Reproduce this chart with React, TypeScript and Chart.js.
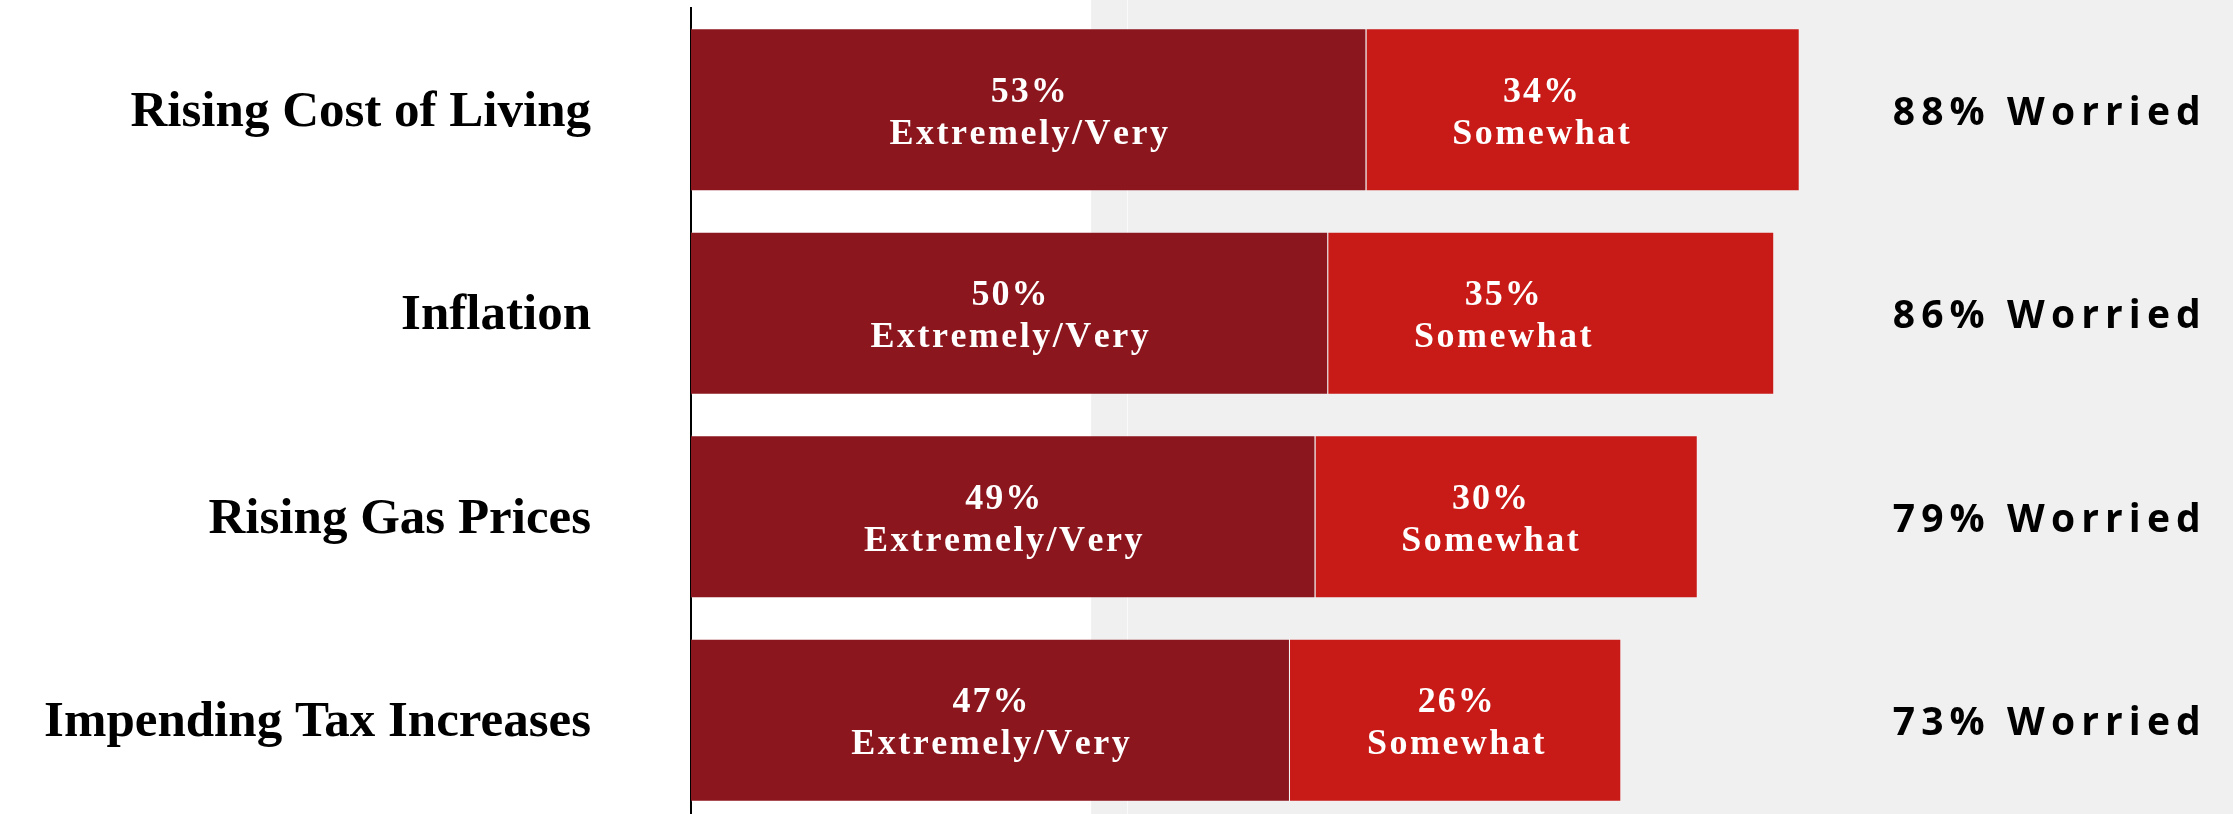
import React, { useEffect, useRef } from "react";
import { Chart, registerables } from "chart.js";

Chart.register(...registerables);

// ---- Data ----
const categories = [
  "Rising Cost of Living",
  "Inflation",
  "Rising Gas Prices",
  "Impending Tax Increases",
];
const seriesNames = ["Extremely/Very", "Somewhat"];
const extremelyVery = [53, 50, 49, 47];
const somewhat = [34, 35, 30, 26];
const worriedTotals = [88, 86, 79, 73];

// ---- Style constants ----
const DARK = "#8B161D";
const RED = "#C81A17";
const X_MAX = 121;
const SHADE_START = 31.4; // value where the grey panel starts
const SHADE_LINE = 34.2; // faint light line inside the panel
const WORRIED_START = 94.3; // value where "xx% Worried" starts
const WORRIED_WIDTH = 308;
const LABEL_MAX_OFFSET = 13.7; // max distance (in %) of a segment label from its segment start

function drawSpaced(
  ctx: CanvasRenderingContext2D,
  text: string,
  x: number,
  y: number,
  spacing: number,
  align: "center" | "left"
) {
  const chars = Array.from(text);
  const widths = chars.map((c) => ctx.measureText(c).width);
  const total = widths.reduce((a, b) => a + b, 0) + spacing * (chars.length - 1);
  let cx = align === "center" ? x - total / 2 : x;
  ctx.textAlign = "left";
  chars.forEach((c, i) => {
    ctx.fillText(c, cx, y);
    cx += widths[i] + spacing;
  });
}

const backgroundPlugin = {
  id: "panelBg",
  beforeDraw(chart: any) {
    const { ctx, width, height } = chart;
    const xs = chart.scales.x;
    ctx.save();
    ctx.fillStyle = "#ffffff";
    ctx.fillRect(0, 0, width, height);
    const gx = xs.getPixelForValue(SHADE_START);
    ctx.fillStyle = "#f0f0f0";
    ctx.fillRect(gx, 0, width - gx, height);
    const lx = Math.round(xs.getPixelForValue(SHADE_LINE)) + 0.5;
    ctx.strokeStyle = "#fafafa";
    ctx.lineWidth = 1;
    ctx.beginPath();
    ctx.moveTo(lx, 0);
    ctx.lineTo(lx, height);
    ctx.stroke();
    ctx.restore();
  },
};

const barLabelPlugin = {
  id: "barLabels",
  afterDatasetsDraw(chart: any) {
    const { ctx } = chart;
    const xs = chart.scales.x;
    ctx.save();
    ctx.fillStyle = "#ffffff";
    ctx.font = "bold 36px 'Liberation Serif', serif";
    ctx.textBaseline = "alphabetic";
    chart.data.datasets.forEach((ds: any, di: number) => {
      const meta = chart.getDatasetMeta(di);
      meta.data.forEach((el: any, i: number) => {
        const v = ds.data[i];
        const start = di === 0 ? 0 : extremelyVery[i];
        const pos = start + Math.min(v / 2, di === 0 ? v / 2 : LABEL_MAX_OFFSET);
        const cx = xs.getPixelForValue(pos);
        const cy = el.y;
        drawSpaced(ctx, `${v}%`, cx, cy - 8, 2, "center");
        drawSpaced(ctx, seriesNames[di], cx, cy + 34, 2.5, "center");
      });
    });
    ctx.restore();
  },
};

const worriedPlugin = {
  id: "worried",
  afterDraw(chart: any) {
    const { ctx } = chart;
    const xs = chart.scales.x;
    const ys = chart.scales.y;
    ctx.save();
    ctx.fillStyle = "#000000";
    ctx.font = "bold 39px 'Open Sans', sans-serif";
    ctx.textBaseline = "alphabetic";
    worriedTotals.forEach((t, i) => {
      const text = `${t}% Worried`;
      const chars = Array.from(text);
      const sum = chars.reduce((a, c) => a + ctx.measureText(c).width, 0);
      const spacing = (WORRIED_WIDTH - sum) / (chars.length - 1);
      const y = ys.getPixelForValue(i) + 15;
      drawSpaced(ctx, text, xs.getPixelForValue(WORRIED_START), y, spacing, "left");
    });
    ctx.restore();
  },
};

export default function App() {
  const ref = useRef<HTMLCanvasElement | null>(null);

  useEffect(() => {
    if (!ref.current) return;
    const chart = new Chart(ref.current, {
      type: "bar",
      data: {
        labels: categories,
        datasets: [
          {
            label: seriesNames[0],
            data: extremelyVery,
            backgroundColor: DARK,
            borderColor: "rgba(255,255,255,0.22)",
            borderWidth: 1,
            barPercentage: 0.8,
            categoryPercentage: 1,
          },
          {
            label: seriesNames[1],
            data: somewhat,
            backgroundColor: RED,
            borderColor: "rgba(255,255,255,0.22)",
            borderWidth: 1,
            barPercentage: 0.8,
            categoryPercentage: 1,
          },
        ],
      },
      options: {
        indexAxis: "y",
        responsive: false,
        animation: false,
        layout: { padding: { top: 8, left: 0, right: 0, bottom: 0 } },
        plugins: {
          legend: { display: false },
          tooltip: { enabled: false },
        },
        scales: {
          x: {
            stacked: true,
            min: 0,
            max: X_MAX,
            display: false,
          },
          y: {
            stacked: true,
            grid: { display: false, drawTicks: false },
            border: { display: true, color: "#000000", width: 2 },
            ticks: {
              color: "#000000",
              padding: 100,
              labelOffset: 3,
              autoSkip: false,
              font: { family: "'Liberation Serif', serif", size: 51, weight: "bold" },
            },
            afterFit(scale: any) {
              scale.width = 691;
              scale.paddingTop = 0;
              scale.paddingBottom = 0;
            },
          },
        },
      },
      plugins: [backgroundPlugin, barLabelPlugin, worriedPlugin],
    } as any);
    return () => chart.destroy();
  }, []);

  return (
    <div
      style={{
        position: "fixed",
        left: 0,
        top: 0,
        width: 2233,
        height: 814,
        overflow: "hidden",
        background: "#ffffff",
      }}
    >
      <canvas ref={ref} width={2233} height={822} style={{ display: "block" }} />
    </div>
  );
}
